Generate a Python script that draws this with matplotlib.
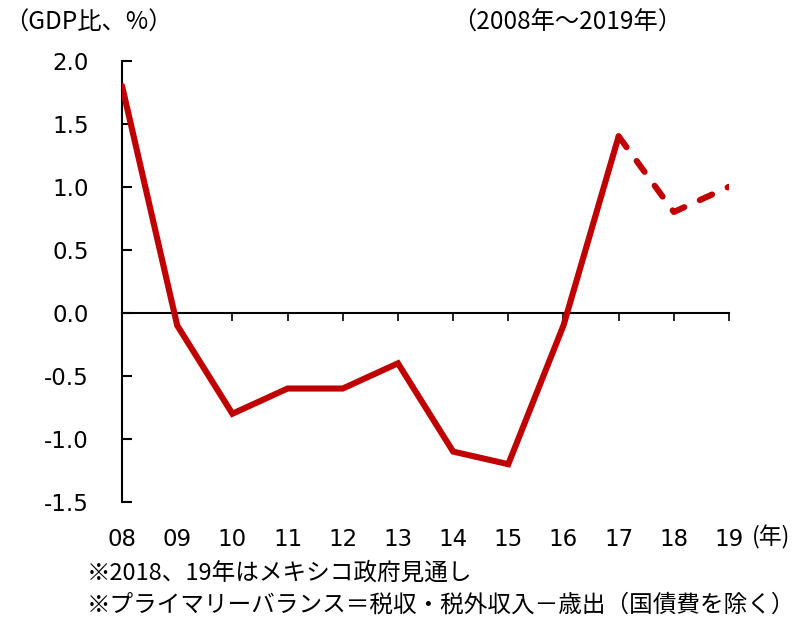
import numpy as np
import matplotlib
matplotlib.use("Agg")
import matplotlib.pyplot as plt

# primary balance, % of GDP
years = ["08", "09", "10", "11", "12", "13", "14", "15", "16", "17", "18", "19"]
balance = [1.8, -0.1, -0.8, -0.6, -0.6, -0.4, -1.1, -1.2, -0.1, 1.4, 0.8, 1.0]
n_actual = 10  # 08..17 actual, 17..19 forecast (dashed)
yticks = [2.0, 1.5, 1.0, 0.5, 0.0, -0.5, -1.0, -1.5]

red = "#C00000"
jp = ["Noto Sans CJK JP", "DejaVu Sans"]
num = ["DejaVu Sans", "Noto Sans CJK JP"]

fig = plt.figure(figsize=(8.05, 6.19), dpi=100)
ax = fig.add_axes([0.1516, 0.189, 0.754, 0.713])

x = np.arange(len(years))
ax.plot(x[:n_actual], balance[:n_actual], color=red, lw=4.4,
        solid_joinstyle="miter", solid_capstyle="round", zorder=3)
ax.plot(x[n_actual - 1:], balance[n_actual - 1:], color=red, lw=4.4,
        dashes=(2.2, 2.8), dash_capstyle="round", dash_joinstyle="round", zorder=3)

ax.set_xlim(0, len(years) - 1)
ax.set_ylim(-1.5, 2.0)

# x axis line at zero with downward ticks
for s in ["top", "right"]:
    ax.spines[s].set_visible(False)
ax.spines["bottom"].set_position(("data", 0))
ax.spines["bottom"].set_linewidth(1.5)
ax.spines["left"].set_linewidth(1.5)
ax.set_xticks(x)
ax.tick_params(axis="x", direction="out", length=6, width=1.2, labelbottom=False)

ax.set_yticks(yticks)
ax.set_yticklabels([f"{v:.1f}" for v in yticks], family=num, fontsize=16.5)
ax.tick_params(axis="y", direction="in", length=7, width=1.5, pad=24)

# year labels below the plot
sec = ax.secondary_xaxis(0)
sec.spines["bottom"].set_visible(False)
sec.set_xticks(x)
sec.set_xticklabels(years, family=num, fontsize=16.5)
sec.tick_params(length=0, pad=19)

fig.text(0.934, 0.1325, "(年)", family=jp, fontsize=16.5, ha="left", va="center")
fig.text(0.005, 0.963, "（GDP比、%）", family=jp, fontsize=17.5, ha="left", va="center")
fig.text(0.562, 0.963, "（2008年～2019年）", family=jp, fontsize=17.5, ha="left", va="center")
fig.text(0.108, 0.074, "※2018、19年はメキシコ政府見通し", family=jp, fontsize=17,
         ha="left", va="center")
fig.text(0.108, 0.0226, "※プライマリーバランス＝税収・税外収入－歳出（国債費を除く）",
         family=jp, fontsize=17, ha="left", va="center")

fig.savefig("out.png", dpi=100)
